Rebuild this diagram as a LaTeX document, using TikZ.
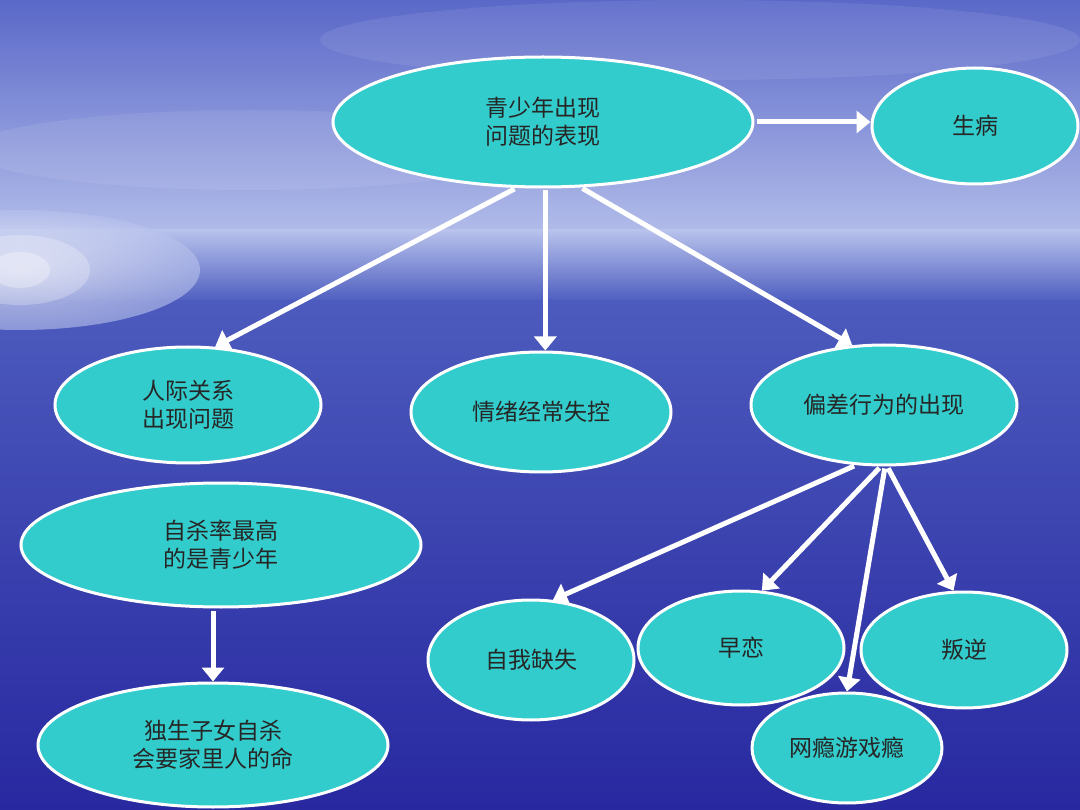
\documentclass[tikz,border=0pt]{standalone}
\usepackage{fontspec}
\setmainfont{Noto Sans CJK SC}
\usetikzlibrary{shapes.geometric,arrows.meta}
\definecolor{teal1}{HTML}{33CCCC}
\definecolor{skytop}{HTML}{5A68C8}
\definecolor{horiz}{HTML}{B8C2EC}
\definecolor{sea}{HTML}{5060C0}
\definecolor{deep}{HTML}{2828A0}
\tikzset{
 bub/.style={ellipse,draw=white,line width=3pt,fill=teal1,text=black!85,font=\fontsize{23}{28}\selectfont,align=center,inner sep=0pt},
 arr/.style={draw=white,line width=5pt,-{Triangle[length=14pt,width=22pt]},shorten <=2pt}
}
\pgfdeclareradialshading{glow}{\pgfpoint{0bp}{0bp}}{color(0bp)=(white); color(10bp)=(white!80!horiz); color(50bp)=(horiz!0!white)}
\begin{document}
\begin{tikzpicture}[x=1pt,y=-1pt]
\useasboundingbox (0,0) rectangle (1080,810);
\shade[top color=skytop,bottom color=horiz] (0,0) rectangle (1080,250);
\shade[top color=sea,bottom color=deep] (0,250) rectangle (1080,810);
\shade[top color=horiz,bottom color=sea] (0,230) rectangle (1080,300);
\begin{scope}[opacity=0.7]
\shade[inner color=white,outer color=horiz,opacity=0.6] (20,270) ellipse (180 and 60);
\end{scope}
\fill[white,opacity=0.25] (20,270) ellipse (70 and 35);
\fill[white,opacity=0.3] (20,270) ellipse (30 and 18);
\fill[white,opacity=0.08] (700,40) ellipse (380 and 40);
\fill[white,opacity=0.08] (250,150) ellipse (280 and 40);

\node[bub,minimum width=420pt,minimum height=130pt] (main) at (543,122) {青少年出现\\问题的表现};
\node[bub,minimum width=206pt,minimum height=116pt] (sb) at (975,126) {生病};
\node[bub,minimum width=266pt,minimum height=116pt] (rj) at (188,405) {人际关系\\出现问题};
\node[bub,minimum width=260pt,minimum height=120pt] (qx) at (541,412) {情绪经常失控};
\node[bub,minimum width=266pt,minimum height=120pt] (pc) at (884,405) {偏差行为的出现};
\node[bub,minimum width=400pt,minimum height=124pt] (zs) at (221,545) {自杀率最高\\的是青少年};
\node[bub,minimum width=350pt,minimum height=124pt] (ds) at (213,745) {独生子女自杀\\会要家里人的命};
\node[bub,minimum width=206pt,minimum height=120pt] (zw) at (531,660) {自我缺失};
\node[bub,minimum width=206pt,minimum height=114pt] (zl) at (741,648) {早恋};
\node[bub,minimum width=206pt,minimum height=116pt] (pn) at (964,650) {叛逆};
\node[bub,minimum width=190pt,minimum height=110pt] (wy) at (847,748) {网瘾游戏瘾};

\draw[arr] (main.east) -- (main.east -| sb.west);
\draw[arr] (main.-112) -- (rj.65);
\draw[arr] (main.-88) -- (main.-88 |- qx.north);
\draw[arr] (main.-60) -- (pc.118);
\draw[arr] (pc.-115) -- (zw.70);
\draw[arr] (pc.-93) -- (zl.70);
\draw[arr] (pc.-89) -- (wy.north);
\draw[arr] (pc.-87) -- (pn.100);
\draw[arr] (zs.south -| ds.north) -- (ds.north);
\end{tikzpicture}
\end{document}
